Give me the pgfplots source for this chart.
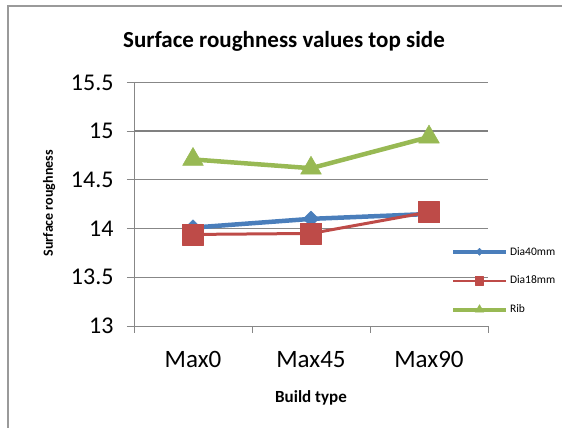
\documentclass[border=0pt]{standalone}
\usepackage{pgfplots}
\pgfplotsset{compat=1.18}
\usepackage{fontspec}
\setmainfont{Carlito}
\definecolor{c1}{HTML}{4A7EBB}
\definecolor{c2}{HTML}{BE4B48}
\definecolor{c3}{HTML}{98B954}
\definecolor{gridc}{HTML}{878787}
\definecolor{framec}{HTML}{9A9A9A}
\begin{document}
\begin{tikzpicture}
\path[use as bounding box] (0pt,0pt) rectangle (562pt,428pt);
\draw[framec, line width=1.2pt] (8pt,0pt) -- (8pt,422pt) -- (562pt,422pt);
\node[font=\bfseries\fontsize{23}{25}\selectfont] at (284pt,387pt) {Surface roughness values top side};
\begin{axis}[
  at={(134pt,102pt)}, anchor=south west, scale only axis,
  width=354pt, height=243.5pt,
  xmin=0, xmax=3, ymin=13, ymax=15.5,
  xtick={0,1,2,3}, x tick label as interval,
  xticklabels={Max0,Max45,Max90},
  ytick={13,13.5,14,14.5,15,15.5},
  yticklabels={13,13.5,14,14.5,15,15.5},
  extra y ticks={15}, extra y tick labels={},
  extra y tick style={grid style={draw=gray, line width=1.6pt}},
  axis x line*=bottom, axis y line*=left,
  axis line style={-, draw=gridc, line width=0.8pt},
  tick align=outside, major tick length=7pt,
  tick style={draw=gridc, line width=0.8pt},
  ymajorgrids, grid style={draw=gridc, line width=0.8pt},
  ticklabel style={font=\fontsize{24}{26}\selectfont},
  xticklabel style={yshift=-15pt, font=\fontsize{25}{27}\selectfont},
  yticklabel style={xshift=-10pt},
  xlabel={Build type},
  xlabel style={font=\bfseries\fontsize{17}{19}\selectfont, at={(axis description cs:0.5,-0.295)}, anchor=center},
  ylabel={Surface roughness},
  ylabel style={font=\bfseries\fontsize{14}{16}\selectfont, at={(axis description cs:-0.24,0.504)}, anchor=center},
  legend style={at={(axis description cs:0.895,0.333)}, anchor=north west, draw=none, fill=none,
    font=\fontsize{11.5}{13}\selectfont, row sep=15.5pt, inner sep=0pt,
    /tikz/every even column/.append style={column sep=4pt}},
  legend cell align=left,
  legend image code/.code={\draw[mark repeat=2,mark phase=2,#1] plot coordinates {(0pt,0pt) (26.5pt,0pt) (53pt,0pt)};},
  clip=false,
]
\addplot[c1, line width=4.5pt, line join=round, mark=square*, mark size=5.5pt,
  mark options={rotate=45, solid, line width=0.5pt},
  legend image post style={line width=4pt, mark size=2.5pt}]
  coordinates {(0.5,14.01) (1.5,14.10) (2.5,14.15)};
\addlegendentry{Dia40mm}
\addplot[c2, line width=3pt, line join=round, mark=square*, mark size=10.5pt,
  mark options={solid, line width=0.5pt},
  legend image post style={line width=2pt, mark size=4.2pt}]
  coordinates {(0.5,13.94) (1.5,13.95) (2.5,14.17)};
\addlegendentry{Dia18mm}
\addplot[c3, line width=4.5pt, line join=round, mark=triangle*, mark size=12pt,
  mark options={solid, line width=0.5pt},
  legend image post style={line width=4pt, mark size=5pt}]
  coordinates {(0.5,14.71) (1.5,14.62) (2.5,14.94)};
\addlegendentry{Rib}
\end{axis}
\end{tikzpicture}
\end{document}
